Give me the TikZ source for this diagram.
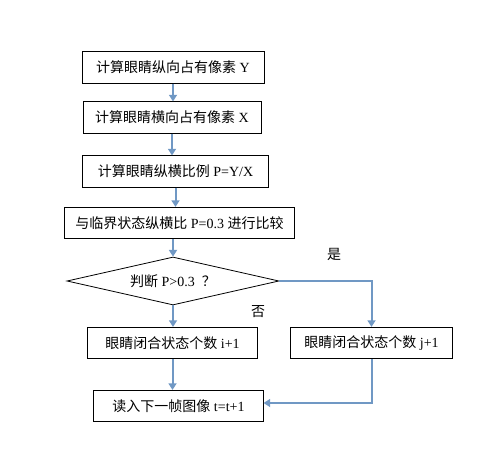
\documentclass[tikz,border=0pt]{standalone}
\usepackage{fontspec}
\setmainfont{Liberation Serif}
\newfontfamily\cjk{Noto Sans CJK SC}
\usetikzlibrary{shapes.geometric,arrows.meta}
\definecolor{flowblue}{RGB}{112,152,196}
\tikzset{
    stepbox/.style={draw, line width=0.6pt, minimum height=23.5pt, inner sep=0pt,
        font=\fontsize{10.5}{12}\selectfont},
    decide/.style={diamond, draw, line width=0.6pt, aspect=4.4, minimum width=159pt,
        minimum height=36pt, inner sep=0pt, font=\fontsize{10.5}{12}\selectfont},
    flow/.style={draw=flowblue, line width=1.5pt,
        -{Triangle[width=6pt,length=5pt,fill=flowblue]}},
    answer/.style={font=\cjk\fontsize{10.5}{12}\selectfont}
}
\begin{document}
\begin{tikzpicture}[x=0.75pt,y=-0.75pt]
    \useasboundingbox (0,0) rectangle (477,463);
    \node[stepbox, minimum width=136.5pt] (calcY) at (173,67.5) {{\cjk 计算眼睛纵向占有像素} Y};
    \node[stepbox, minimum width=133.5pt] (calcX) at (172,117.5) {{\cjk 计算眼睛横向占有像素} X};
    \node[stepbox, minimum width=140pt] (ratio) at (175.5,171.5) {{\cjk 计算眼睛纵横比例} P=Y/X};
    \node[stepbox, minimum width=173pt] (compare) at (179.5,223) {{\cjk 与临界状态纵横比} P=0.3 {\cjk 进行比较}};
    \node[decide] (judge) at (173,281) {{\cjk 判断} P>0.3\ \ {\cjk ？}};
    \node[stepbox, minimum width=127pt] (countI) at (172.5,343) {{\cjk 眼睛闭合状态个数} i+1};
    \node[stepbox, minimum width=122pt] (countJ) at (371.5,343) {{\cjk 眼睛闭合状态个数} j+1};
    \node[stepbox, minimum width=127pt] (readNext) at (178.5,406) {{\cjk 读入下一帧图像} t=t+1};
    \node[answer] (yes) at (334,254) {是};
    \node[answer] (no) at (258,312) {否};

    \draw[flow] (calcY.south) -- (calcY.south |- calcX.north);
    \draw[flow] (calcX.south) -- (calcX.south |- ratio.north);
    \draw[flow] (ratio.south) -- (ratio.south |- compare.north);
    \draw[flow] (judge.north |- compare.south) -- (judge.north);
    \draw[flow] (judge.south) -- (judge.south |- countI.north);
    \draw[flow] (judge.east) -| (countJ.north);
    \draw[flow] (countI.south) -- (countI.south |- readNext.north);
    \draw[flow] (countJ.south) |- ([yshift=2.25pt]readNext.east);
\end{tikzpicture}
\end{document}
